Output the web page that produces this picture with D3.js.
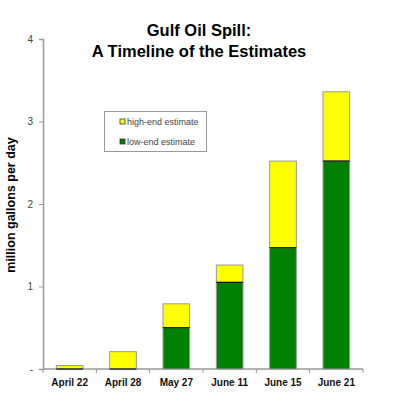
<!DOCTYPE html>
<html><head><meta charset="utf-8">
<script src="https://cdn.jsdelivr.net/npm/d3@7"></script>
<style>body{margin:0;background:#fff}svg{display:block}</style>
</head><body>
<script>
const categories = ["April 22","April 28","May 27","June 11","June 15","June 21"];
const lowEnd  = [0, 0, 0.50, 1.05, 1.47, 2.52];
const highEnd = [0.042, 0.21, 0.79, 1.26, 2.52, 3.36];
const yTicks = [0,1,2,3,4];
const yTickLabels = ["-","1","2","3","4"];
const seriesNames = ["high-end estimate","low-end estimate"];

const W=400,H=396;
const svg=d3.select("body").append("svg").attr("width",W).attr("height",H);
const font="Liberation Sans, Arial, sans-serif";
const x=d3.scaleBand().domain(categories).range([43,363]).paddingInner(0.5).paddingOuter(0.25);
const y=d3.scaleLinear().domain([0,4]).range([369,39]);

// y axis
const ya=svg.append("g").attr("transform","translate(43,0)")
  .call(d3.axisLeft(y).tickValues(yTicks).tickFormat((d,i)=>yTickLabels[i]).tickSize(4).tickPadding(6));
ya.select(".domain").attr("stroke","#999").attr("stroke-width",1.5);
ya.selectAll(".tick line").attr("stroke","#999");
ya.selectAll("text").attr("font-family",font).attr("font-size",10).attr("fill","#444");

// x axis
const xa=svg.append("g").attr("transform","translate(0,369)");
xa.append("line").attr("x1",43).attr("x2",363).attr("stroke","#999").attr("stroke-width",1.5);
const bw=(363-43)/categories.length;
d3.range(categories.length+1).forEach(i=>{
  xa.append("line").attr("x1",43+i*bw).attr("x2",43+i*bw).attr("y1",0).attr("y2",4).attr("stroke","#999");
});
xa.selectAll("text.cat").data(categories).join("text")
  .attr("x",d=>x(d)+x.bandwidth()/2).attr("y",17).attr("text-anchor","middle")
  .attr("font-family",font).attr("font-size",10).attr("font-weight","bold").attr("fill","#111").text(d=>d);

// bars
const g=svg.append("g");
categories.forEach((c,i)=>{
  const bx=x(c), w=x.bandwidth();
  g.append("rect").attr("x",bx).attr("width",w).attr("y",y(highEnd[i])).attr("height",y(lowEnd[i])-y(highEnd[i]))
    .attr("fill","#ffff00").attr("stroke","#999").attr("stroke-width",1);
  if(lowEnd[i]>0){
    g.append("rect").attr("x",bx).attr("width",w).attr("y",y(lowEnd[i])).attr("height",y(0)-y(lowEnd[i]))
      .attr("fill","#008000").attr("stroke","#999").attr("stroke-width",1);
    g.append("line").attr("x1",bx).attr("x2",bx+w).attr("y1",y(lowEnd[i])).attr("y2",y(lowEnd[i]))
      .attr("stroke","#111").attr("stroke-width",1.2);
  } else {
    g.append("line").attr("x1",bx).attr("x2",bx+w).attr("y1",y(0)).attr("y2",y(0))
      .attr("stroke","#111").attr("stroke-width",1.2);
  }
});

// title
const t=svg.append("text").attr("text-anchor","middle").attr("font-family",font).attr("font-weight","bold")
  .attr("font-size",16.5).attr("fill","#000");
t.append("tspan").attr("x",199).attr("y",36).text("Gulf Oil Spill:");
t.append("tspan").attr("x",199).attr("y",57).text("A Timeline of the Estimates");

// y label
svg.append("text").attr("transform","translate(15,205) rotate(-90)").attr("text-anchor","middle")
  .attr("font-family",font).attr("font-weight","bold").attr("font-size",12.5).attr("fill","#000")
  .text("million gallons per day");

// legend
const lg=svg.append("g");
lg.append("rect").attr("x",104.5).attr("y",111.5).attr("width",102).attr("height",40)
  .attr("fill","#fff").attr("stroke","#999");
const colors=["#ffff00","#008000"];
seriesNames.forEach((n,i)=>{
  lg.append("rect").attr("x",120).attr("y",119+i*20).attr("width",5).attr("height",5)
    .attr("fill",colors[i]).attr("stroke","#333").attr("stroke-width",0.8);
  lg.append("text").attr("x",127).attr("y",125+i*20).attr("font-family",font).attr("font-size",9)
    .attr("fill","#444").text(n);
});
</script>
</body></html>
